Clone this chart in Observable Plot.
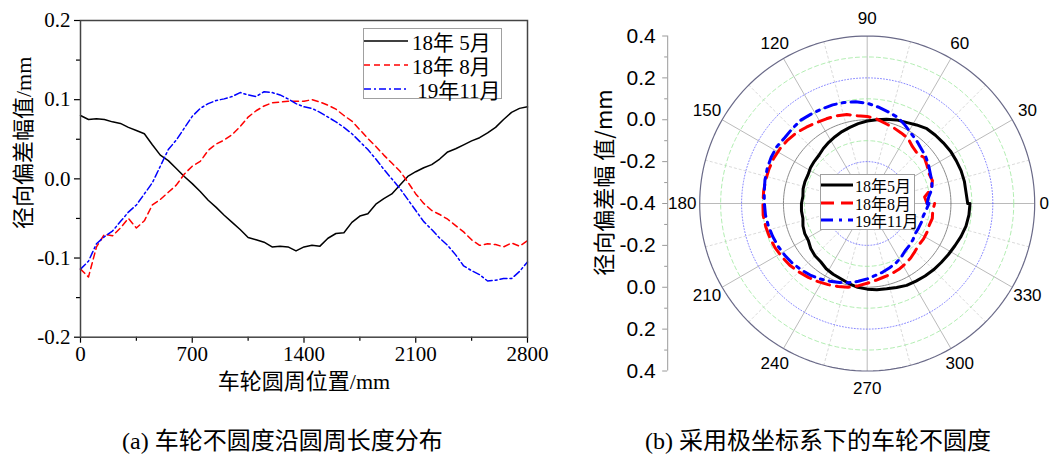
<!DOCTYPE html>
<html><head><meta charset="utf-8">
<script src="https://cdn.jsdelivr.net/npm/d3@7"></script>
<script src="https://cdn.jsdelivr.net/npm/@observablehq/plot@0.6"></script>
<style>
body{margin:0;background:#fff;}
#wrap{position:relative;width:1051px;height:454px;overflow:hidden;background:#fff;}
#wrap > svg{position:absolute;overflow:visible;}
.cap{position:absolute;font-family:"Liberation Serif","Noto Sans CJK SC",serif;font-size:24px;white-space:nowrap;line-height:24px;color:#000;}
.legend{position:absolute;background:#fff;border:1px solid #a0a0a0;box-sizing:border-box;}
.legend .row{position:absolute;left:0;display:flex;align-items:center;white-space:nowrap;font-family:"Liberation Serif","Noto Sans CJK SC",serif;color:#000;}
.legend svg{display:block;}
</style></head><body><div id="wrap"></div>
<script>
// ---------------- data ----------------
const positions = [0,50,100,150,200,250,300,350,400,450,500,550,600,650,700,750,800,850,900,950,1000,1050,1100,1150,1200,1250,1300,1350,1400,1450,1500,1550,1600,1650,1700,1750,1800,1850,1900,1950,2000,2050,2100,2150,2200,2250,2300,2350,2400,2450,2500,2550,2600,2650,2700,2750,2800];
const may2018 = [0.080,0.075,0.076,0.075,0.072,0.070,0.065,0.061,0.057,0.043,0.030,0.023,0.013,0.003,-0.006,-0.016,-0.027,-0.036,-0.046,-0.055,-0.064,-0.074,-0.077,-0.080,-0.086,-0.085,-0.086,-0.091,-0.086,-0.084,-0.085,-0.075,-0.069,-0.068,-0.055,-0.047,-0.044,-0.032,-0.025,-0.019,-0.008,0.003,0.009,0.014,0.018,0.025,0.034,0.038,0.043,0.048,0.052,0.058,0.065,0.075,0.084,0.089,0.091];
const aug2018 = [-0.114,-0.124,-0.086,-0.070,-0.072,-0.062,-0.050,-0.062,-0.053,-0.033,-0.026,-0.017,-0.008,0.006,0.016,0.022,0.036,0.044,0.049,0.056,0.066,0.078,0.086,0.092,0.096,0.097,0.098,0.098,0.098,0.100,0.097,0.093,0.088,0.080,0.073,0.062,0.051,0.041,0.030,0.020,0.010,-0.004,-0.019,-0.031,-0.040,-0.045,-0.051,-0.059,-0.067,-0.077,-0.084,-0.082,-0.083,-0.086,-0.081,-0.085,-0.078];
const nov2019 = [-0.114,-0.104,-0.082,-0.073,-0.066,-0.054,-0.042,-0.033,-0.019,-0.005,0.016,0.037,0.049,0.064,0.079,0.089,0.095,0.099,0.101,0.104,0.109,0.106,0.104,0.110,0.109,0.106,0.101,0.095,0.091,0.089,0.084,0.078,0.072,0.065,0.057,0.047,0.037,0.025,0.012,0.000,-0.012,-0.026,-0.040,-0.054,-0.064,-0.075,-0.084,-0.096,-0.110,-0.116,-0.121,-0.129,-0.128,-0.126,-0.126,-0.117,-0.105];
const circumference = 2800;
const legendNamesA = ["18年\u00a05月","18年\u00a08月","\u00a019年11月"];
const legendNamesB = ["18年5月","18年8月","19年11月"];
const xTicks = [0,700,1400,2100,2800];
const xMinorTicks = [350,1050,1750,2450];
const yTicks = [-0.2,-0.1,0,0.1,0.2];
const yMinorTicks = [-0.15,-0.05,0.05,0.15];
const angleTicks = [0,30,60,90,120,150,180,210,240,270,300,330];
const angleMinorTicks = [15,45,75,105,135,165,195,225,255,285,315,345];
const ringLevels = [-0.3,-0.2,-0.1,0.0,0.1,0.2,0.3,0.4];
const radialTicks = [-0.8,-0.6,-0.4,-0.2,0,0.2,0.4,0.6,0.8];
const radialMinorTicks = [-0.7,-0.5,-0.3,-0.1,0.1,0.3,0.5,0.7];
const labelA = "车轮圆周位置/mm";
const ylabelA = "径向偏差幅值/mm";
const ylabelB = "径向偏差幅 值/mm";
const captionA = "(a) 车轮不圆度沿圆周长度分布";
const captionB = "(b) 采用极坐标系下的车轮不圆度";

const seriesStyle = [
  {stroke: "#000000", dashA: null, dashB: null},
  {stroke: "#ff0000", dashA: "6,4", dashB: "13,7"},
  {stroke: "#0000ff", dashA: "7,3,2,3", dashB: "12,6,3,6"}
];
const seriesData = [may2018, aug2018, nov2019].map(arr => positions.map((p, i) => ({pos: p, v: arr[i]})));

const wrap = document.getElementById("wrap");
const serif = "'Liberation Serif','Noto Sans CJK SC',serif";
const sans = "'Liberation Sans','Noto Sans CJK SC',sans-serif";

// ---------------- panel (a) ----------------
const chartA = Plot.plot({
  width: 560, height: 400,
  marginLeft: 80, marginRight: 33, marginTop: 20, marginBottom: 63.3,
  x: {domain: [0, 2800]},
  y: {domain: [-0.2, 0.2]},
  style: {fontFamily: serif, fontSize: "21px", color: "#000", background: "transparent", overflow: "visible"},
  marks: [
    Plot.axisX({ticks: xMinorTicks, tickSize: 4, tickFormat: () => "", label: null, strokeWidth: 1.2}),
    Plot.axisX({ticks: xTicks, tickSize: 6, tickPadding: 3, tickFormat: d => String(d), label: null, fontSize: 21, strokeWidth: 1.2}),
    Plot.axisY({ticks: yMinorTicks, tickSize: 4, tickFormat: () => "", label: null, strokeWidth: 1.2}),
    Plot.axisY({ticks: yTicks, tickSize: 6, tickPadding: 4, tickFormat: d => d.toFixed(1), label: null, fontSize: 21, strokeWidth: 1.2}),
    ...seriesData.map((data, k) => Plot.line(data, {
      x: "pos", y: "v", stroke: seriesStyle[k].stroke, strokeWidth: 1.5,
      strokeDasharray: seriesStyle[k].dashA
    })),
    Plot.frame({stroke: "#444", strokeWidth: 1.5}),
    Plot.text([labelA], {frameAnchor: "bottom", dy: 45, text: d => d, textAnchor: "middle", lineAnchor: "middle", fontSize: 22, fontFamily: serif}),
    Plot.text([ylabelA], {frameAnchor: "left", dx: -57, dy: -36, rotate: -90, text: d => d, textAnchor: "middle", lineAnchor: "middle", fontSize: 22, fontFamily: serif})
  ]
});
chartA.style.left = "0px"; chartA.style.top = "0px";
wrap.appendChild(chartA);

// ---------------- panel (b) ----------------
const toRad = a => a * Math.PI / 180;
const rho = v => v + 0.4;
const polarRows = seriesData.map(data => data.map(d => {
  const t = 2 * Math.PI * d.pos / circumference;
  return {x: rho(d.v) * Math.cos(t), y: rho(d.v) * Math.sin(t)};
}));
const ringRows = [];
for (const L of ringLevels) {
  for (let a = 0; a <= 360; a += 2) ringRows.push({level: L, x: rho(L) * Math.cos(toRad(a)), y: rho(L) * Math.sin(toRad(a))});
}
const ringMark = (filter, opts) => Plot.line(ringRows.filter(d => filter(d.level)), {x: "x", y: "y", z: "level", ...opts});
const isLevel = (a, b) => Math.abs(a - b) < 1e-9;
const rMax = rho(0.4);
const rLabel = a => (a === 0 ? 0.845 : 0.8835);

const chartB = Plot.plot({
  width: 461, height: 400,
  marginLeft: 109.2, marginRight: 16.8, marginTop: 35.5, marginBottom: 29.5,
  x: {domain: [-0.8, 0.8], axis: null},
  y: {domain: [-0.8, 0.8], axis: null},
  style: {fontFamily: sans, fontSize: "17px", color: "#000", background: "transparent", overflow: "visible"},
  marks: [
    // spokes
    Plot.link(angleMinorTicks, {x1: 0, y1: 0, x2: a => rMax * Math.cos(toRad(a)), y2: a => rMax * Math.sin(toRad(a)), stroke: "#d0d0d0", strokeWidth: 0.8, strokeDasharray: "3,2"}),
    Plot.link(angleTicks, {x1: 0, y1: 0, x2: a => rMax * Math.cos(toRad(a)), y2: a => rMax * Math.sin(toRad(a)), stroke: "#a8a8a8", strokeWidth: 0.8}),
    // rings
    ringMark(L => [-0.3, -0.1, 0.1, 0.3].some(v => isLevel(v, L)), {stroke: "#9ee89e", strokeWidth: 0.8, strokeDasharray: "4,3"}),
    ringMark(L => [-0.2, 0.2].some(v => isLevel(v, L)), {stroke: "#6a6aff", strokeWidth: 0.8, strokeDasharray: "1,2"}),
    ringMark(L => isLevel(L, 0), {stroke: "#8c8c8c", strokeWidth: 1}),
    ringMark(L => isLevel(L, 0.4), {stroke: "#6a6a88", strokeWidth: 1.2}),
    // radial axis
    Plot.ruleX([-0.8], {y1: -0.8, y2: 0.8, dx: -32, stroke: "#9a9a9a", strokeWidth: 1}),
    Plot.axisY({ticks: radialMinorTicks, tickSize: 3, tickFormat: () => "", dx: -32, stroke: "#9a9a9a", label: null}),
    Plot.axisY({ticks: radialTicks, tickSize: 5, tickPadding: 7, dx: -32, stroke: "#9a9a9a", fill: "#000", fontSize: 21, fontFamily: sans, label: null,
      tickFormat: d => (Math.round((Math.abs(d) - 0.4) * 10) / 10).toFixed(1)}),
    // data
    ...polarRows.map((rows, k) => Plot.line(rows, {
      x: "x", y: "y", stroke: seriesStyle[k].stroke, strokeWidth: 3,
      strokeDasharray: seriesStyle[k].dashB
    })),
    // angle labels
    Plot.text(angleTicks, {x: a => rLabel(a) * Math.cos(toRad(a)), y: a => rLabel(a) * Math.sin(toRad(a)), text: a => String(a), fontSize: 17, fontFamily: sans}),
    Plot.text([ylabelB], {frameAnchor: "left", dx: -95.2, dy: -21, rotate: -90, text: d => d, textAnchor: "middle", lineAnchor: "middle", fontSize: 22, fontFamily: "'Noto Sans CJK SC',sans-serif"})
  ]
});
chartB.style.left = "590px"; chartB.style.top = "0px";
wrap.appendChild(chartB);

// ---------------- legends ----------------
function makeLegend(names, box, opts) {
  const div = document.createElement("div");
  div.className = "legend";
  Object.assign(div.style, {left: box.left + "px", top: box.top + "px", width: box.width + "px", height: box.height + "px"});
  names.forEach((name, k) => {
    const s = seriesStyle[k];
    const row = document.createElement("div");
    row.className = "row";
    row.style.top = (opts.rows[k] - opts.lineH / 2) + "px";
    row.style.height = opts.lineH + "px";
    row.style.fontSize = opts.fontSize + "px";
    const dash = opts.dash(s);
    row.innerHTML = `<svg width="${opts.sample}" height="6"><line x1="0" y1="3" x2="${opts.sample}" y2="3" stroke="${s.stroke}" stroke-width="${opts.sw}" ${dash ? `stroke-dasharray="${dash}"` : ""}/></svg><span style="margin-left:${opts.gap}px">${name}</span>`;
    div.appendChild(row);
  });
  wrap.appendChild(div);
}
makeLegend(legendNamesA, {left: 363, top: 28, width: 139, height: 71},
  {rows: [12, 36.3, 59.7], lineH: 24, fontSize: 21, sample: 44, gap: 4, sw: 1.5, dash: s => s.dashA});
makeLegend(legendNamesB, {left: 820, top: 174, width: 95, height: 56},
  {rows: [10, 27.7, 45.3], lineH: 18, fontSize: 16, sample: 32, gap: 2, sw: 3, dash: s => s.dashB});

// ---------------- captions ----------------
function caption(text, left, top) {
  const d = document.createElement("div");
  d.className = "cap";
  d.textContent = text;
  d.style.left = left + "px"; d.style.top = top + "px";
  wrap.appendChild(d);
}
caption(captionA, 122, 429);
caption(captionB, 645, 429);
</script></body></html>
